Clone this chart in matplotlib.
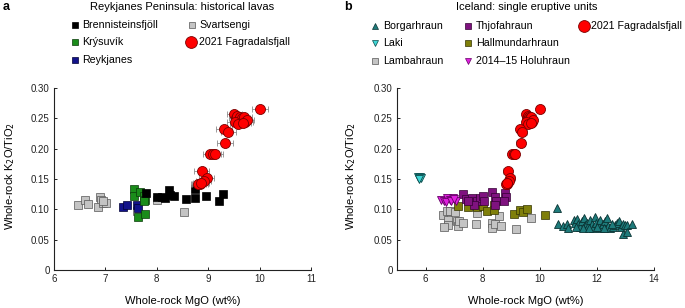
import matplotlib
matplotlib.use("Agg")
import matplotlib.pyplot as plt
from matplotlib.lines import Line2D

plt.rcParams['font.family'] = ['Liberation Sans', 'DejaVu Sans']

# ---------------- data ----------------
# Panel a: Reykjanes Peninsula historical lavas
bren_x = [7.79, 8.00, 8.10, 8.16, 8.24, 8.26, 8.33, 8.57, 8.74, 8.75, 8.95, 9.21, 9.29]
bren_y = [0.127, 0.120, 0.121, 0.118, 0.132, 0.124, 0.122, 0.117, 0.133, 0.119, 0.122, 0.113, 0.126]
krys_x = [7.56, 7.56, 7.67, 7.75, 7.77, 7.76, 7.64, 7.77]
krys_y = [0.133, 0.122, 0.129, 0.122, 0.116, 0.113, 0.088, 0.092]
reyk_x = [7.35, 7.43, 7.62, 7.63]
reyk_y = [0.104, 0.107, 0.107, 0.103]
svar_x = [6.47, 6.60, 6.67, 6.90, 6.91, 6.86, 6.96, 7.02, 6.95, 7.61, 8.01, 8.53]
svar_y = [0.107, 0.115, 0.109, 0.121, 0.115, 0.104, 0.110, 0.111, 0.113, 0.098, 0.115, 0.096]

# 2021 Fagradalsfjall (both panels)
fag_x = [10.01, 9.51, 9.55, 9.57, 9.60, 9.62, 9.64, 9.66, 9.70, 9.72, 9.75, 9.52, 9.58,
         9.68, 9.31, 9.39, 9.33, 9.04, 9.10, 9.13, 8.87, 8.97, 8.91, 8.84, 8.81, 8.86]
fag_y = [0.265, 0.257, 0.250, 0.254, 0.248, 0.252, 0.246, 0.250, 0.253, 0.244, 0.247, 0.244, 0.241,
         0.242, 0.233, 0.228, 0.209, 0.192, 0.191, 0.191, 0.163, 0.151, 0.147, 0.142, 0.141, 0.144]
fag_xerr = 0.15
fag_yerr = 0.004

# Panel b: Iceland single eruptive units
borg_x = [10.59, 10.65, 10.80, 10.94, 11.00, 11.18, 11.23, 11.29, 11.35, 11.41, 11.47, 11.55,
          11.58, 11.64, 11.70, 11.76, 11.82, 11.88, 11.94, 11.97, 12.05, 12.11, 12.13, 12.20,
          12.29, 12.34, 12.40, 12.46, 12.58, 12.64, 12.72, 12.79, 12.83, 12.90, 12.99, 13.04,
          13.22, 12.92, 13.07, 11.27, 11.50, 11.74, 11.99, 12.25, 12.52]
borg_y = [0.102, 0.076, 0.073, 0.076, 0.070, 0.082, 0.078, 0.084, 0.076, 0.071, 0.080, 0.085,
          0.074, 0.078, 0.073, 0.082, 0.076, 0.070, 0.088, 0.078, 0.074, 0.082, 0.069, 0.076,
          0.080, 0.085, 0.073, 0.070, 0.071, 0.074, 0.077, 0.080, 0.071, 0.076, 0.074, 0.074,
          0.076, 0.060, 0.062, 0.071, 0.069, 0.069, 0.071, 0.070, 0.076]
laki_x = [5.72, 5.76, 5.80, 5.84, 5.78]
laki_y = [0.153, 0.151, 0.154, 0.152, 0.150]
lamb_x = [6.62, 6.74, 6.86, 6.80, 6.80, 6.66, 7.03, 7.09, 7.15, 7.18, 7.32, 7.77, 7.79,
          8.32, 8.32, 8.43, 8.58, 8.63, 9.17, 9.68]
lamb_y = [0.091, 0.098, 0.098, 0.082, 0.074, 0.071, 0.096, 0.080, 0.073, 0.080, 0.078, 0.076, 0.094,
          0.078, 0.069, 0.076, 0.089, 0.073, 0.067, 0.085]
thjo_x = [7.32, 7.42, 7.62, 7.79, 7.91, 8.02, 8.05, 7.68, 8.32, 8.43, 8.47, 8.43, 8.78, 8.82, 8.75, 7.50]
thjo_y = [0.125, 0.117, 0.118, 0.114, 0.118, 0.122, 0.113, 0.107, 0.129, 0.121, 0.114, 0.107,
          0.127, 0.120, 0.113, 0.113]
hall_x = [7.15, 7.50, 7.79, 8.00, 8.14, 8.40, 8.40, 9.11, 9.31, 9.40, 9.54, 10.18]
hall_y = [0.106, 0.104, 0.104, 0.105, 0.098, 0.107, 0.099, 0.092, 0.099, 0.095, 0.101, 0.090]
holu_x = [6.55, 6.65, 6.75, 6.85, 6.95, 7.05, 6.70, 6.90, 7.00]
holu_y = [0.116, 0.114, 0.118, 0.116, 0.119, 0.114, 0.112, 0.113, 0.117]

yticks = [0, 0.05, 0.10, 0.15, 0.20, 0.25, 0.30]
ytick_labels = ['0', '0.05', '0.10', '0.15', '0.20', '0.25', '0.30']
xticks_a = [6, 7, 8, 9, 10, 11]
xticks_b = [6, 8, 10, 12, 14]

# ---------------- styles ----------------
C_BREN = '#000000'
C_KRYS = '#1a8c1a'
C_REYK = '#12128a'
C_GRAY = '#c4c4c4'
C_RED = '#ff0000'
C_BORG = '#1e7b7b'
C_LAKI = '#3fd6d6'
C_THJO = '#7f127f'
C_HALL = '#7f7f0a'
C_HOLU = '#e020e0'

fig = plt.figure(figsize=(6.85, 3.08), dpi=100)
axA = fig.add_axes([0.0788, 0.1234, 0.3752, 0.5909])
axB = fig.add_axes([0.5796, 0.1234, 0.3752, 0.5909])

sq = dict(marker='s', linestyle='none', markersize=5.2, markeredgewidth=0.5)
tri = dict(linestyle='none', markersize=5.5, markeredgewidth=0.6)
circ = dict(marker='o', linestyle='none', markersize=7.2, markeredgewidth=0.6,
            markerfacecolor=C_RED, markeredgecolor='#7a0000')

def draw_fag(ax):
    ax.errorbar(fag_x, fag_y, xerr=fag_xerr, yerr=fag_yerr, fmt='none', ecolor='#8a8a8a',
                elinewidth=0.6, capsize=2, capthick=0.6, zorder=4)
    ax.plot(fag_x, fag_y, zorder=5, **circ)

# panel a
axA.plot(svar_x, svar_y, color=C_GRAY, markeredgecolor='#555555', zorder=3, **sq)
axA.plot(reyk_x, reyk_y, color=C_REYK, markeredgecolor='#000033', zorder=3, **sq)
axA.plot(krys_x, krys_y, color=C_KRYS, markeredgecolor='#0a3a0a', zorder=3, **sq)
axA.plot(bren_x, bren_y, color=C_BREN, markeredgecolor='#000000', zorder=3, **sq)
draw_fag(axA)

# panel b
axB.plot(lamb_x, lamb_y, color=C_GRAY, markeredgecolor='#555555', zorder=3, **sq)
axB.plot(hall_x, hall_y, color=C_HALL, markeredgecolor='#333300', zorder=3, **sq)
axB.plot(thjo_x, thjo_y, color=C_THJO, markeredgecolor='#330033', zorder=3, **sq)
axB.plot(holu_x, holu_y, marker='v', color=C_HOLU, markeredgecolor='#660066', zorder=3, **tri)
axB.plot(laki_x, laki_y, marker='v', color=C_LAKI, markeredgecolor='#0a4a4a', zorder=3, **tri)
axB.plot(borg_x, borg_y, marker='^', color=C_BORG, markeredgecolor='#0a3333', zorder=3, **tri)
draw_fag(axB)

for ax, xt, xl in [(axA, xticks_a, (6, 11)), (axB, xticks_b, (5, 14))]:
    ax.set_xlim(*xl)
    ax.set_ylim(0, 0.30)
    ax.set_xticks(xt)
    ax.set_yticks(yticks)
    ax.set_yticklabels(ytick_labels)
    for s in ['top', 'right']:
        ax.spines[s].set_visible(False)
    for s in ['left', 'bottom']:
        ax.spines[s].set_linewidth(0.8)
        ax.spines[s].set_color('#222222')
    ax.tick_params(direction='in', length=2.5, width=0.7, labelsize=7, colors='#222222',
                   pad=3)

# axis labels
ylab = 'Whole-rock K$_2$O/TiO$_2$'
fig.text(0.0146, 0.43, ylab, rotation=90, ha='center', va='center', fontsize=8)
fig.text(0.512, 0.43, ylab, rotation=90, ha='center', va='center', fontsize=8)
fig.text(0.2664, 0.022, 'Whole-rock MgO (wt%)', ha='center', va='center', fontsize=8)
fig.text(0.767, 0.022, 'Whole-rock MgO (wt%)', ha='center', va='center', fontsize=8)

# panel letters
fig.text(0.004, 0.978, 'a', ha='left', va='center', fontsize=9, fontweight='bold')
fig.text(0.502, 0.978, 'b', ha='left', va='center', fontsize=9, fontweight='bold')

# titles
fig.text(182 / 685, 1 - 6.5 / 308, 'Reykjanes Peninsula: historical lavas', ha='center', va='center', fontsize=8)
fig.text(527 / 685, 1 - 6.5 / 308, 'Iceland: single eruptive units', ha='center', va='center', fontsize=8)

LFS = 7.7

def leg_entry(mx, tx, py, label, **mk):
    y = 1 - py / 308
    fig.add_artist(Line2D([mx / 685], [y], transform=fig.transFigure, linestyle='none', **mk))
    fig.text(tx / 685, y, label, ha='left', va='center', fontsize=LFS)

lsq = dict(marker='s', markersize=5, markeredgewidth=0.5)
ltri = dict(markersize=5, markeredgewidth=0.5)
lcirc = dict(marker='o', markersize=8.5, markeredgewidth=0.6, markerfacecolor=C_RED, markeredgecolor='#7a0000')

# legend a
leg_entry(75, 82, 25, 'Brennisteinsfjöll', color=C_BREN, markeredgecolor='#000000', **lsq)
leg_entry(75, 82, 42, 'Krýsuvík', color=C_KRYS, markeredgecolor='#0a3a0a', **lsq)
leg_entry(75, 82, 60, 'Reykjanes', color=C_REYK, markeredgecolor='#000033', **lsq)
leg_entry(192, 199, 25, 'Svartsengi', color=C_GRAY, markeredgecolor='#555555', **lsq)
leg_entry(191, 199, 42, '2021 Fagradalsfjall', **lcirc)

# legend b
leg_entry(375, 383, 26, 'Borgarhraun', marker='^', color=C_BORG, markeredgecolor='#0a3333', **ltri)
leg_entry(375, 383, 43, 'Laki', marker='v', color=C_LAKI, markeredgecolor='#0a4a4a', **ltri)
leg_entry(375, 383, 61, 'Lambahraun', color=C_GRAY, markeredgecolor='#555555', **lsq)
leg_entry(468, 476, 26, 'Thjofahraun', color=C_THJO, markeredgecolor='#330033', **lsq)
leg_entry(468, 476, 43, 'Hallmundarhraun', color=C_HALL, markeredgecolor='#333300', **lsq)
leg_entry(468, 476, 61, '2014\u201315 Holuhraun', marker='v', color=C_HOLU, markeredgecolor='#660066', **ltri)
leg_entry(584, 591, 26, '2021 Fagradalsfjall', **lcirc)

fig.savefig('out.png', dpi=100)
